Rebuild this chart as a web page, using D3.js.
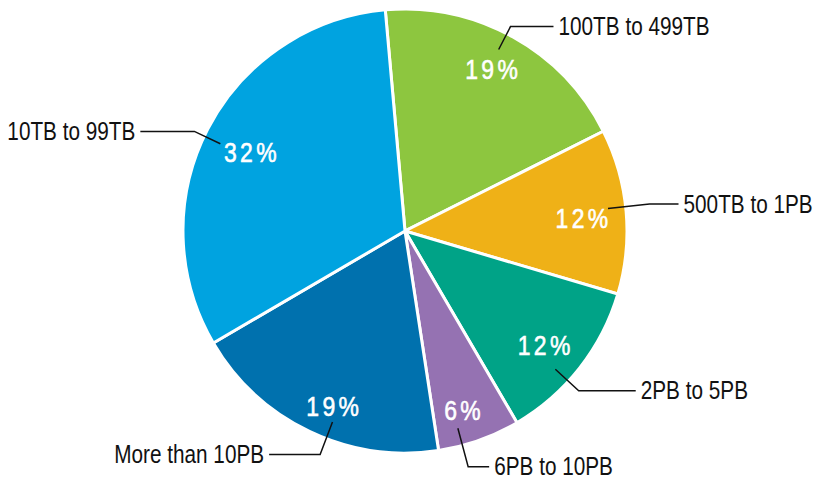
<!DOCTYPE html>
<html>
<head>
<meta charset="utf-8">
<script src="https://cdn.jsdelivr.net/npm/d3@7"></script>
<style>
  html, body { margin: 0; padding: 0; background: #fff; }
  svg { display: block; }
  .cat { font-family: "Liberation Sans", Arial, sans-serif; font-size: 25px; fill: #111; }
  .pct { font-family: "Liberation Sans", Arial, sans-serif; font-size: 27px; fill: #fff; letter-spacing: 4px; stroke: #fff; stroke-width: 0.6px; }
</style>
</head>
<body>
<svg id="chart" width="815" height="479"></svg>
<script>
// Storage volume shares, clockwise from the top
const categories = ["100TB to 499TB", "500TB to 1PB", "2PB to 5PB", "6PB to 10PB", "More than 10PB", "10TB to 99TB"];
const shares = [19, 12, 12, 6, 19, 32];
const colors = ["#8DC63F", "#EFB117", "#00A387", "#9572B2", "#0071AE", "#00A3E0"];

// Label layout: angular nudges (degrees), radii and horizontal leader runs (px)
const pctNudge = [-1, 1, 1.5, 1.8, -3, -0.3];
const pctRadius = [183, 177, 180, 188, 190, 174];
const leaderNudge = [-1.8, -1.2, 4.5, 4.5, -4.7, -2];
const leaderElbow = [230, 246, 236, 244, 239, 233];
const leaderRun = [43, 29, 57, 21, 51, 54];

const width = 815, height = 479;
const cx = 405, cy = 231, radius = 222;
const startAngle = -5.1 * Math.PI / 180;
const narrow = 0.83; // horizontal squeeze to get a condensed face

const svg = d3.select("#chart");
const g = svg.append("g").attr("transform", `translate(${cx},${cy})`);

const pie = d3.pie().sort(null).value(d => d)
  .startAngle(startAngle).endAngle(startAngle + 2 * Math.PI);
const arcs = pie(shares);

const arc = d3.arc().innerRadius(0).outerRadius(radius);

g.selectAll("path.slice")
  .data(arcs)
  .join("path")
  .attr("class", "slice")
  .attr("d", arc)
  .attr("fill", (d, i) => colors[i])
  .attr("stroke", "#fff")
  .attr("stroke-width", 3)
  .attr("stroke-linejoin", "miter");

const rad = deg => deg * Math.PI / 180;
const polar = (a, r) => [Math.sin(a) * r, -Math.cos(a) * r];
const mid = d => (d.startAngle + d.endAngle) / 2;

// Percentage labels inside the slices
g.selectAll("g.pct")
  .data(arcs)
  .join("g")
  .attr("transform", (d, i) => {
    const [x, y] = polar(mid(d) + rad(pctNudge[i]), pctRadius[i]);
    return `translate(${x + 2},${y}) scale(0.85,1)`;
  })
  .append("text")
  .attr("class", "pct")
  .attr("text-anchor", "middle")
  .attr("dominant-baseline", "central")
  .text(d => d.data + "%");

// Leader lines and category names
arcs.forEach((d, i) => {
  const a = mid(d) + rad(leaderNudge[i]);
  const p0 = polar(a, radius * 0.92);
  const p1 = polar(a, leaderElbow[i]);
  const right = Math.sin(a) >= 0;
  const x2 = p1[0] + (right ? leaderRun[i] : -leaderRun[i]);
  g.append("polyline")
    .attr("points", [p0, p1, [x2, p1[1]]].map(p => p.join(",")).join(" "))
    .attr("fill", "none")
    .attr("stroke", "#111")
    .attr("stroke-width", 1.5);
  g.append("g")
    .attr("transform", `translate(${x2 + (right ? 5 : -5)},${p1[1]}) scale(${narrow},1)`)
    .append("text")
    .attr("class", "cat")
    .attr("dominant-baseline", "central")
    .attr("text-anchor", right ? "start" : "end")
    .text(categories[i]);
});
</script>
</body>
</html>
